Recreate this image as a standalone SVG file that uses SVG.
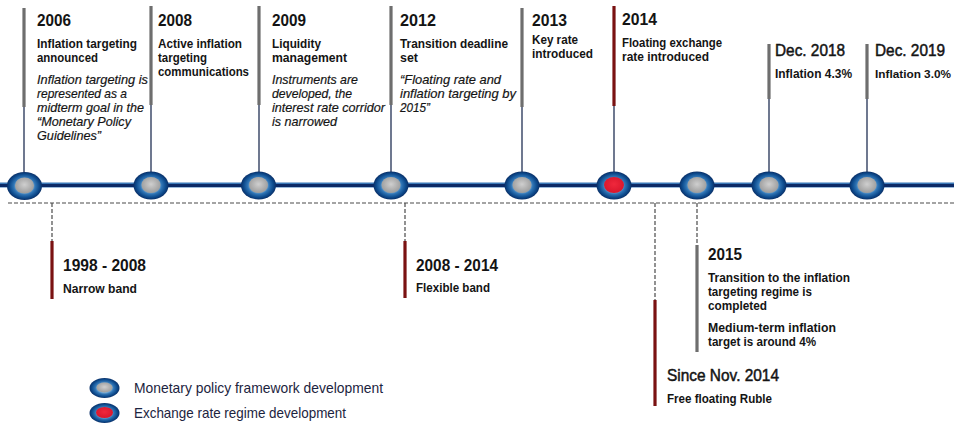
<svg xmlns="http://www.w3.org/2000/svg" width="954" height="425" viewBox="0 0 954 425">
<defs>
<radialGradient id="ring" cx="50%" cy="50%" r="50%">
<stop offset="0.45" stop-color="#7fb2dc"/>
<stop offset="0.62" stop-color="#2f74b4"/>
<stop offset="0.85" stop-color="#0d4a8c"/>
<stop offset="1" stop-color="#0a3068"/>
</radialGradient>
<radialGradient id="grey" cx="50%" cy="45%" r="55%">
<stop offset="0" stop-color="#cfcfcf"/>
<stop offset="1" stop-color="#9c9c9c"/>
</radialGradient>
<radialGradient id="red" cx="50%" cy="45%" r="55%">
<stop offset="0" stop-color="#f0283c"/>
<stop offset="1" stop-color="#d8162c"/>
</radialGradient>
<style>
text{font-family:"Liberation Sans",Arial,sans-serif;fill:#141414}
.yr{font-size:17px;font-weight:bold}
.yrm{font-size:17px;font-weight:normal;stroke:#141414;stroke-width:0.5}
.b{font-size:13.5px;font-weight:bold}
.bs{font-size:12px;font-weight:bold}
.i{font-size:13.5px;font-style:italic;stroke:#141414;stroke-width:0.2}
.lg{font-size:14.5px;fill:#1c2440}
.gbar{stroke:#6e6e6e;stroke-width:3.2}
.rbar{stroke:#7a1212;stroke-width:3.2}
.thin{stroke:#0e1e45;stroke-width:1.2}
.dash{stroke:#4a4a4a;stroke-width:1.2;stroke-dasharray:4 2;fill:none}
.ring{fill:url(#ring)}
.g{fill:url(#grey)}
.r{fill:url(#red)}
</style>
</defs>
<rect width="954" height="425" fill="#ffffff"/>

<g id="connectors">
<line x1="0" y1="185" x2="954" y2="185" stroke="#3a78b8" stroke-width="5"/>
<line x1="0" y1="185.5" x2="954" y2="185.5" stroke="#0c2a66" stroke-width="3.2"/>
<line class="dash" x1="8" y1="203" x2="954" y2="203"/>
<line class="thin" x1="24" y1="106" x2="24" y2="173"/>
<line class="gbar" x1="24" y1="8" x2="24" y2="107"/>
<line class="thin" x1="151" y1="104" x2="151" y2="173"/>
<line class="gbar" x1="151" y1="6" x2="151" y2="105"/>
<line class="thin" x1="259" y1="104" x2="259" y2="173"/>
<line class="gbar" x1="259" y1="6" x2="259" y2="105"/>
<line class="thin" x1="391" y1="104" x2="391" y2="173"/>
<line class="gbar" x1="391" y1="6" x2="391" y2="105"/>
<line class="thin" x1="522" y1="106" x2="522" y2="173"/>
<line class="gbar" x1="522" y1="8" x2="522" y2="107"/>
<line class="thin" x1="614" y1="105" x2="614" y2="173"/>
<line class="rbar" x1="614" y1="6" x2="614" y2="106"/>
<line class="thin" x1="769" y1="98" x2="769" y2="173"/>
<line class="gbar" x1="769" y1="44" x2="769" y2="99"/>
<line class="thin" x1="867" y1="98" x2="867" y2="173"/>
<line class="gbar" x1="867" y1="44" x2="867" y2="99"/>
<line class="dash" x1="52" y1="203" x2="52" y2="242"/>
<line class="rbar" x1="52" y1="241" x2="52" y2="299"/>
<line class="dash" x1="405" y1="203" x2="405" y2="241"/>
<line class="rbar" x1="405" y1="241" x2="405" y2="298"/>
<line class="dash" x1="655" y1="203" x2="655" y2="300"/>
<line class="rbar" x1="655" y1="300" x2="655" y2="406"/>
<line class="dash" x1="697" y1="203" x2="697" y2="245"/>
<line class="gbar" x1="697" y1="245" x2="697" y2="352"/>
</g>

<g id="n2006">
<ellipse class="ring" cx="24.5" cy="186" rx="17.5" ry="14"/>
<ellipse class="g" cx="24.5" cy="185.5" rx="9.5" ry="8"/>
<text class="yr" x="37" y="26" textLength="34" lengthAdjust="spacingAndGlyphs">2006</text>
<text class="b" x="37" y="48" textLength="100" lengthAdjust="spacingAndGlyphs">Inflation targeting</text>
<text class="b" x="37" y="62" textLength="61" lengthAdjust="spacingAndGlyphs">announced</text>
<text class="i" x="37" y="84" textLength="111" lengthAdjust="spacingAndGlyphs">Inflation targeting is</text>
<text class="i" x="37" y="98" textLength="90" lengthAdjust="spacingAndGlyphs">represented as a</text>
<text class="i" x="37" y="112" textLength="107" lengthAdjust="spacingAndGlyphs">midterm goal in the</text>
<text class="i" x="37" y="126" textLength="94" lengthAdjust="spacingAndGlyphs">“Monetary Policy</text>
<text class="i" x="37" y="140" textLength="64" lengthAdjust="spacingAndGlyphs">Guidelines”</text>
</g>

<g id="n2008">
<ellipse class="ring" cx="151" cy="185.5" rx="17.5" ry="14"/>
<ellipse class="g" cx="151" cy="185" rx="9.5" ry="8"/>
<text class="yr" x="158" y="26" textLength="34" lengthAdjust="spacingAndGlyphs">2008</text>
<text class="b" x="158" y="48" textLength="84" lengthAdjust="spacingAndGlyphs">Active inflation</text>
<text class="b" x="158" y="62" textLength="49" lengthAdjust="spacingAndGlyphs">targeting</text>
<text class="b" x="158" y="76" textLength="91" lengthAdjust="spacingAndGlyphs">communications</text>
</g>

<g id="n2009">
<ellipse class="ring" cx="258.5" cy="185.5" rx="17.5" ry="14"/>
<ellipse class="g" cx="258.5" cy="185" rx="9.5" ry="8"/>
<text class="yr" x="272" y="26" textLength="34" lengthAdjust="spacingAndGlyphs">2009</text>
<text class="b" x="272" y="48" textLength="49" lengthAdjust="spacingAndGlyphs">Liquidity</text>
<text class="b" x="272" y="62" textLength="75" lengthAdjust="spacingAndGlyphs">management</text>
<text class="i" x="272" y="84" textLength="86" lengthAdjust="spacingAndGlyphs">Instruments are</text>
<text class="i" x="272" y="98" textLength="80" lengthAdjust="spacingAndGlyphs">developed, the</text>
<text class="i" x="272" y="112" textLength="113" lengthAdjust="spacingAndGlyphs">interest rate corridor</text>
<text class="i" x="272" y="126" textLength="65" lengthAdjust="spacingAndGlyphs">is narrowed</text>
</g>

<g id="n2012">
<ellipse class="ring" cx="391" cy="185.5" rx="17.5" ry="14"/>
<ellipse class="g" cx="391" cy="185" rx="9.5" ry="8"/>
<text class="yr" x="400" y="26" textLength="36" lengthAdjust="spacingAndGlyphs">2012</text>
<text class="b" x="400" y="48" textLength="108" lengthAdjust="spacingAndGlyphs">Transition deadline</text>
<text class="b" x="400" y="62" textLength="18" lengthAdjust="spacingAndGlyphs">set</text>
<text class="i" x="400" y="84" textLength="101" lengthAdjust="spacingAndGlyphs">“Floating rate and</text>
<text class="i" x="400" y="98" textLength="116" lengthAdjust="spacingAndGlyphs">inflation targeting by</text>
<text class="i" x="400" y="112" textLength="30" lengthAdjust="spacingAndGlyphs">2015”</text>
</g>

<g id="n2013">
<ellipse class="ring" cx="522" cy="185.5" rx="17.5" ry="14"/>
<ellipse class="g" cx="522" cy="185" rx="9.5" ry="8"/>
<text class="yr" x="532" y="26" textLength="35" lengthAdjust="spacingAndGlyphs">2013</text>
<text class="b" x="532" y="44" textLength="46" lengthAdjust="spacingAndGlyphs">Key rate</text>
<text class="b" x="532" y="58" textLength="61" lengthAdjust="spacingAndGlyphs">introduced</text>
</g>

<g id="n2014">
<ellipse class="ring" cx="614" cy="185.5" rx="17.5" ry="14"/>
<ellipse class="r" cx="614" cy="185" rx="10" ry="8"/>
<text class="yr" x="622" y="25" textLength="35" lengthAdjust="spacingAndGlyphs">2014</text>
<text class="b" x="622" y="47" textLength="100" lengthAdjust="spacingAndGlyphs">Floating exchange</text>
<text class="b" x="622" y="61" textLength="87" lengthAdjust="spacingAndGlyphs">rate introduced</text>
</g>

<g id="n2015">
<ellipse class="ring" cx="697" cy="185.5" rx="17.5" ry="14"/>
<ellipse class="g" cx="697" cy="185" rx="9.5" ry="8"/>
<text class="yr" x="708" y="260" textLength="34" lengthAdjust="spacingAndGlyphs">2015</text>
<text class="b" x="708" y="282" textLength="142" lengthAdjust="spacingAndGlyphs">Transition to the inflation</text>
<text class="b" x="708" y="296" textLength="104" lengthAdjust="spacingAndGlyphs">targeting regime is</text>
<text class="b" x="708" y="310" textLength="59" lengthAdjust="spacingAndGlyphs">completed</text>
<text class="b" x="708" y="332" textLength="128" lengthAdjust="spacingAndGlyphs">Medium-term inflation</text>
<text class="b" x="708" y="346" textLength="108" lengthAdjust="spacingAndGlyphs">target is around 4%</text>
</g>

<g id="n2018">
<ellipse class="ring" cx="769" cy="185.5" rx="17.5" ry="14"/>
<ellipse class="g" cx="769" cy="185" rx="9.5" ry="8"/>
<text class="yrm" x="775" y="56" textLength="70" lengthAdjust="spacingAndGlyphs">Dec. 2018</text>
<text class="bs" x="775" y="78" textLength="77" lengthAdjust="spacingAndGlyphs">Inflation 4.3%</text>
</g>

<g id="n2019">
<ellipse class="ring" cx="867" cy="185.5" rx="17.5" ry="14"/>
<ellipse class="g" cx="867" cy="185" rx="9.5" ry="8"/>
<text class="yrm" x="875" y="56" textLength="70" lengthAdjust="spacingAndGlyphs">Dec. 2019</text>
<text class="bs" x="875" y="78" textLength="76" lengthAdjust="spacingAndGlyphs" style="font-size:11px">Inflation 3.0%</text>
</g>

<g id="r1998">
<text class="yr" x="63" y="271" textLength="83" lengthAdjust="spacingAndGlyphs">1998 - 2008</text>
<text class="b" x="63" y="293" textLength="74" lengthAdjust="spacingAndGlyphs">Narrow band</text>
</g>

<g id="r2008">
<text class="yr" x="416" y="271" textLength="82" lengthAdjust="spacingAndGlyphs">2008 - 2014</text>
<text class="b" x="416" y="292" textLength="74" lengthAdjust="spacingAndGlyphs">Flexible band</text>
</g>

<g id="rNov2014">
<text class="yrm" x="667" y="381" textLength="112" lengthAdjust="spacingAndGlyphs">Since Nov. 2014</text>
<text class="b" x="667" y="403" textLength="105" lengthAdjust="spacingAndGlyphs">Free floating Ruble</text>
</g>

<g id="legend">
<ellipse class="ring" cx="104.5" cy="388" rx="15" ry="10"/>
<ellipse class="g" cx="104.5" cy="387.5" rx="8" ry="5"/>
<text class="lg" x="134" y="393" textLength="249" lengthAdjust="spacingAndGlyphs">Monetary policy framework development</text>
<ellipse class="ring" cx="104.5" cy="413" rx="15" ry="10"/>
<ellipse class="r" cx="104.5" cy="412.5" rx="8.5" ry="5.5"/>
<text class="lg" x="134" y="418" textLength="212" lengthAdjust="spacingAndGlyphs">Exchange rate regime development</text>
</g>
</svg>
